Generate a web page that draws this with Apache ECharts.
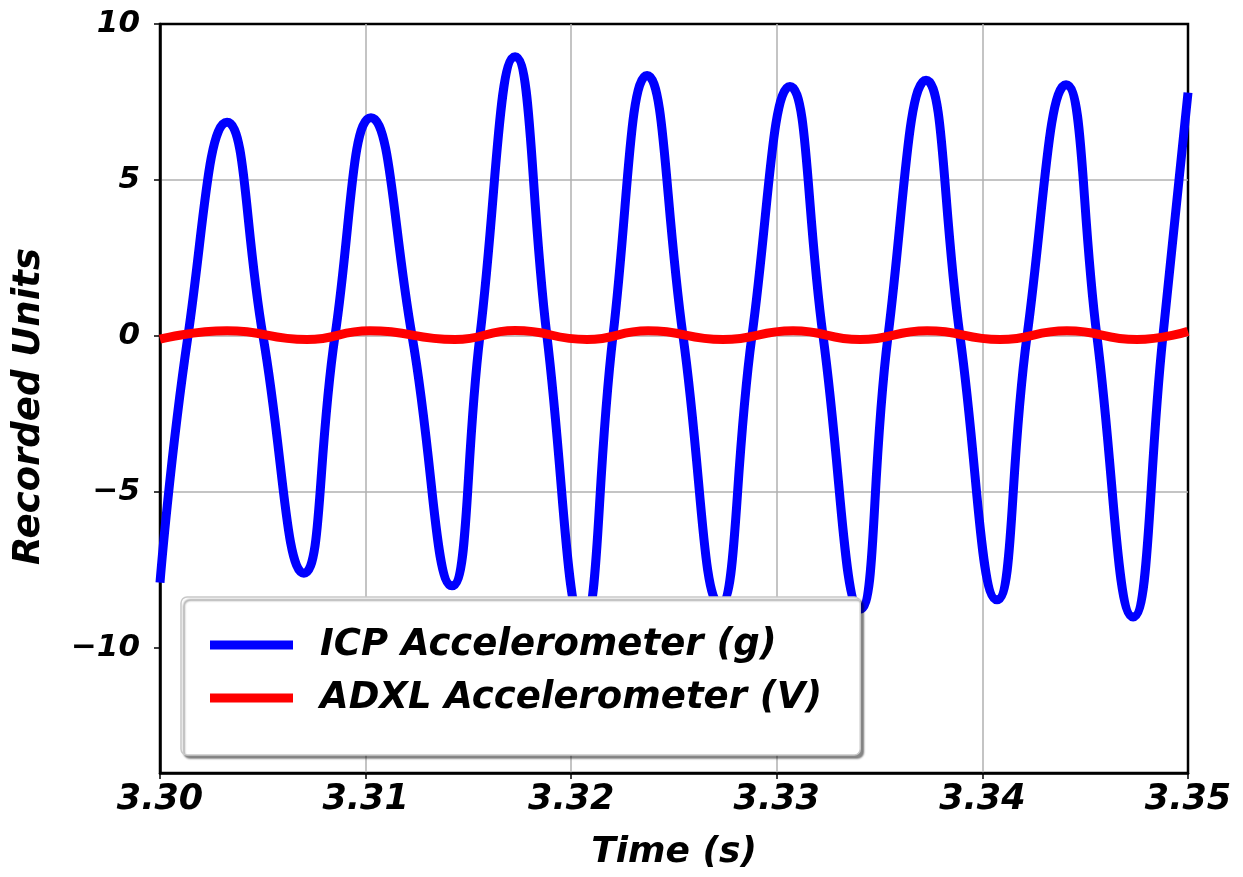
<!DOCTYPE html>
<html>
<head>
<meta charset="utf-8">
<script src="https://cdn.jsdelivr.net/npm/echarts@6/dist/echarts.min.js"></script>
<style>
html,body{margin:0;padding:0;background:#fff;}
#chart{width:1243px;height:877px;}
</style>
</head>
<body>
<div id="chart"></div>
<script>
// ICP accelerometer (g): start, peaks, troughs and zero crossings
const icpTime = [3.30000,3.30136,3.30326,3.30501,3.30700,3.30851,3.31026,3.31226,3.31420,3.31556,3.31727,3.31882,3.32057,3.32203,3.32369,3.32544,3.32724,3.32879,3.33064,3.33225,3.33405,3.33541,3.33726,3.33891,3.34071,3.34217,3.34407,3.34557,3.34733,3.34878,3.35000];
const icpValue = [-7.9,0,6.85,0,-7.6,0,7.0,0,-8.0,0,8.95,0,-9.2,0,8.35,0,-8.6,0,8.0,0,-8.75,0,8.2,0,-8.45,0,8.05,0,-9.0,0,7.8];
// ADXL accelerometer (V): peaks and troughs
const adxlTime = [3.30000,3.30326,3.30715,3.31021,3.31435,3.31727,3.32077,3.32374,3.32738,3.33079,3.33405,3.33731,3.34086,3.34411,3.34752,3.35000];
const adxlValue = [-0.10,0.17,-0.11,0.17,-0.11,0.18,-0.11,0.17,-0.11,0.17,-0.11,0.17,-0.11,0.17,-0.11,0.15];
// axis ticks
const xTicks = [3.30,3.31,3.32,3.33,3.34,3.35];
const yTicks = [-10,-5,0,5,10];
const seriesNames = ['ICP Accelerometer (g)','ADXL Accelerometer (V)'];

const FONT = 'DejaVu Sans';
const icpData = icpTime.map((t,i)=>[t,icpValue[i]]);
const adxlData = adxlTime.map((t,i)=>[t,adxlValue[i]]);
const txt = (size)=>({fontFamily:FONT,fontSize:size,fontWeight:'bold',fontStyle:'italic',color:'#000'});

const chart = echarts.init(document.getElementById('chart'));
chart.setOption({
  animation:false,
  backgroundColor:'#fff',
  grid:{left:160,right:55,top:24,bottom:104,show:true,borderColor:'#000',borderWidth:2.5,backgroundColor:'#fff'},
  xAxis:{
    type:'value',min:3.30,max:3.35,interval:0.01,
    name:'Time (s)',nameLocation:'middle',nameGap:62,
    nameTextStyle:txt(36),
    axisLine:{show:true,onZero:false,lineStyle:{color:'#000',width:2.5}},
    axisTick:{show:true,length:6,lineStyle:{color:'#000',width:1.5}},
    axisLabel:Object.assign({margin:9,customValues:xTicks,formatter:v=>Number(v).toFixed(2)},txt(35)),
    splitLine:{show:true,showMinLine:false,showMaxLine:false,lineStyle:{color:'#b0b0b0',width:1.5}}
  },
  yAxis:{
    type:'value',min:-14,max:10,
    name:'Recorded Units',nameLocation:'middle',nameGap:112,
    nameTextStyle:Object.assign({padding:[0,16,0,0]},txt(37)),
    axisLine:{show:true,onZero:false,lineStyle:{color:'#000',width:2.5}},
    axisTick:{show:true,length:6,customValues:yTicks,lineStyle:{color:'#000',width:1.5}},
    axisLabel:Object.assign({margin:20,customValues:yTicks,formatter:v=>String(v).replace('-','\u2212')},txt(31)),
    splitLine:{show:true,showMinLine:false,showMaxLine:false,lineStyle:{color:'#b0b0b0',width:1.5}}
  },
  legend:{
    show:true,orient:'vertical',left:181,top:597,
    data:seriesNames,
    icon:'rect',itemWidth:83,itemHeight:9,itemGap:13,
    padding:[28,38,37,29],
    backgroundColor:'#fff',borderColor:'#c8c8c8',borderWidth:1.5,borderRadius:6,
    shadowColor:'rgba(0,0,0,0.45)',shadowBlur:2,shadowOffsetX:3,shadowOffsetY:3,
    textStyle:Object.assign({padding:[0,0,0,22],lineHeight:40},txt(37))
  },
  series:[
    {name:seriesNames[0],type:'line',data:icpData,showSymbol:false,smooth:0.5,
      lineStyle:{color:'#0000ff',width:9},itemStyle:{color:'#0000ff'},z:3},
    {name:seriesNames[1],type:'line',data:adxlData,showSymbol:false,smooth:0.5,
      lineStyle:{color:'#ff0000',width:9},itemStyle:{color:'#ff0000'},z:3}
  ]
});
</script>
</body>
</html>
